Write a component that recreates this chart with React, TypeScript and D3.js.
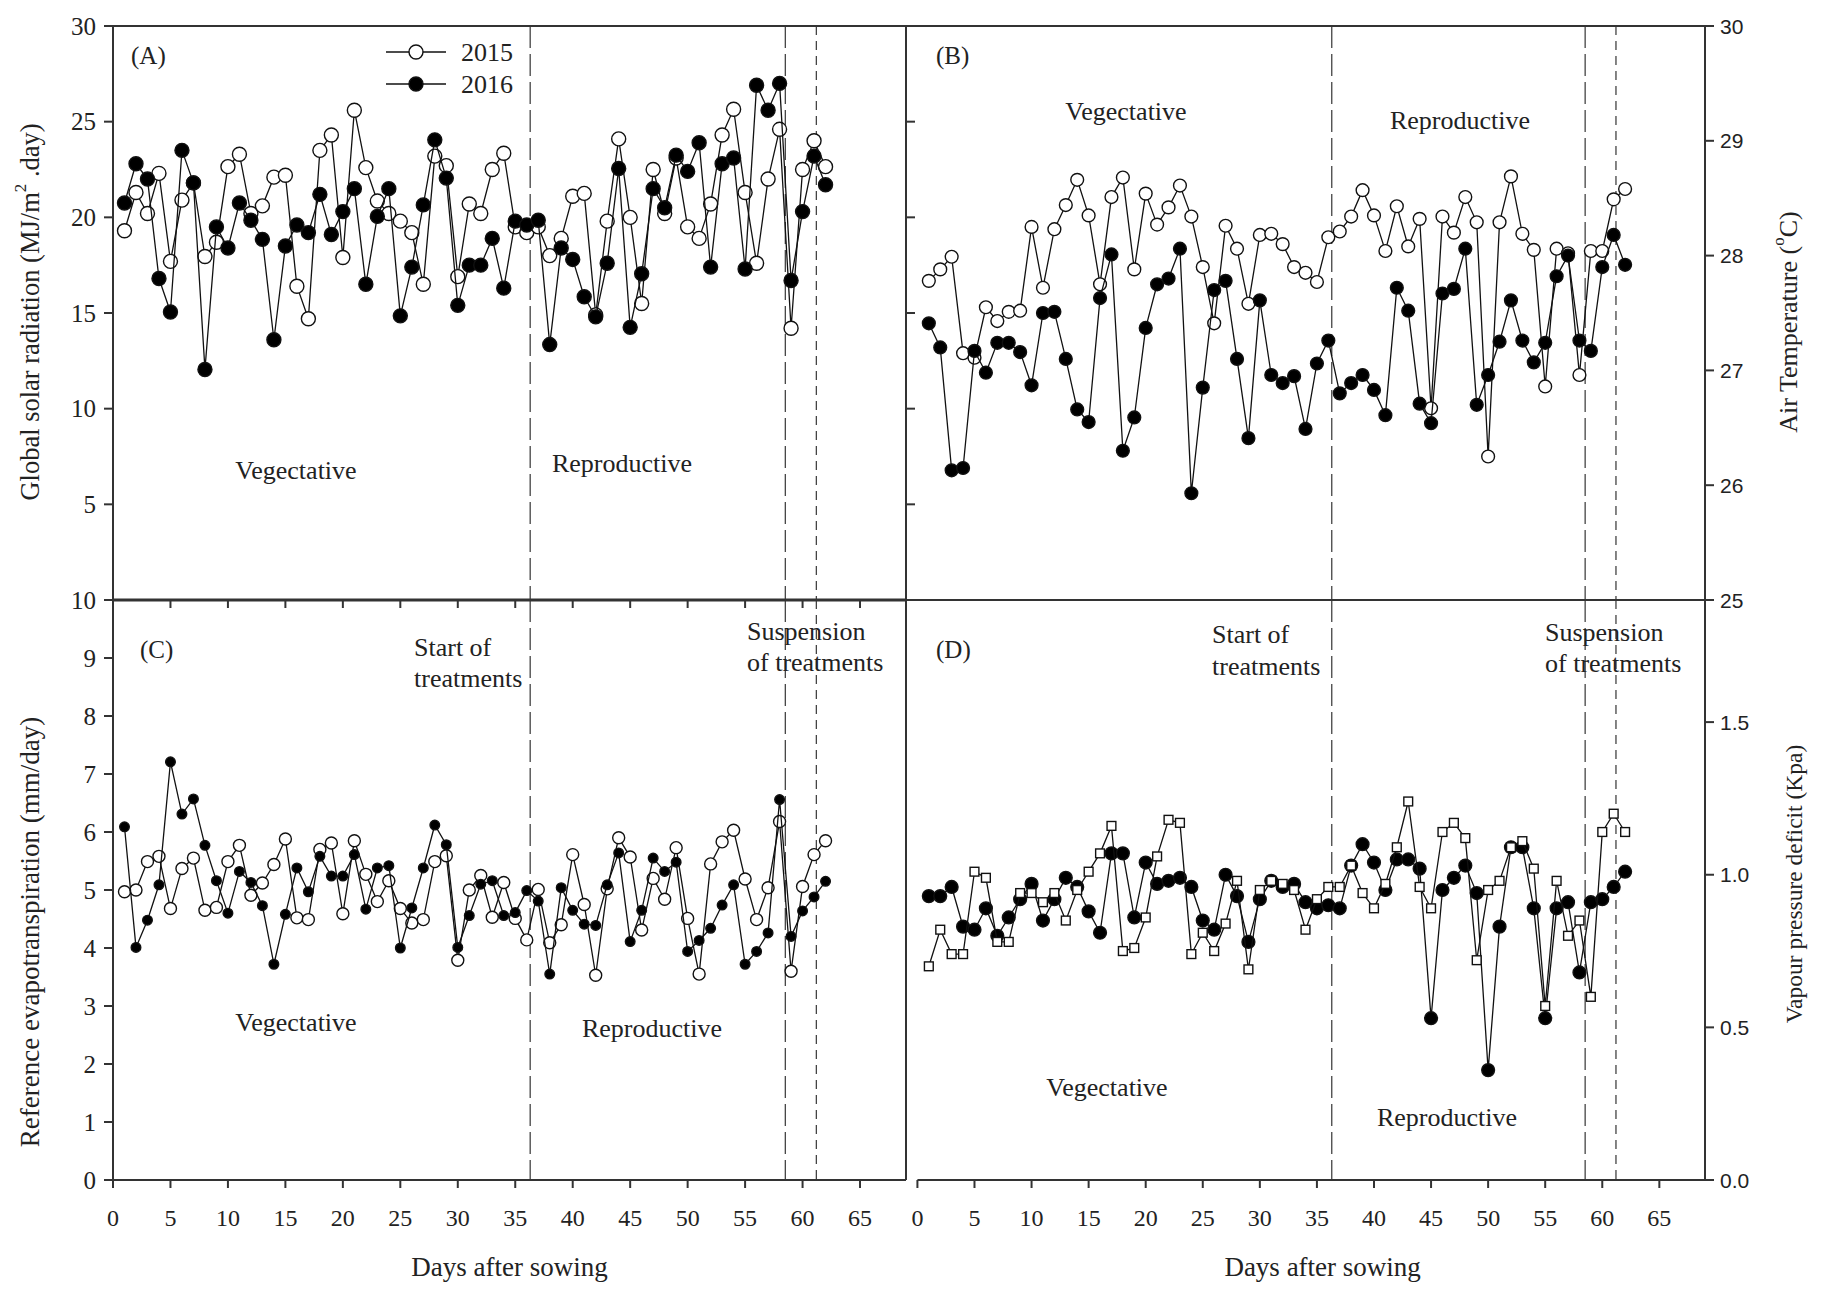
import React from "react";
import * as d3 from "d3";

// Daily weather during the two growing seasons (days after sowing 1..62)
const days = d3.range(1, 63);

const radiation2015 = [
  19.3, 21.3, 20.2, 22.3, 17.7, 20.9, 21.8, 17.95, 18.7, 22.65, 23.3, 20.2, 20.6, 22.1, 22.2, 16.4,
  14.7, 23.5, 24.3, 17.9, 25.6, 22.6, 20.85, 20.2, 19.8, 19.2, 16.5, 23.2, 22.7, 16.9, 20.7, 20.2,
  22.5, 23.35, 19.5, 19.2, 19.5, 18.0, 18.9, 21.1, 21.25, 14.9, 19.8, 24.1, 20.0, 15.5, 22.5, 20.2,
  23.1, 19.5, 18.9, 20.7, 24.3, 25.65, 21.3, 17.6, 22.0, 24.6, 14.2, 22.5, 24.0, 22.65,
];
const radiation2016 = [
  20.75, 22.8, 22.0, 16.8, 15.05, 23.5, 21.8, 12.05, 19.5, 18.4, 20.75, 19.85, 18.85, 13.6, 18.5, 19.6,
  19.2, 21.2, 19.1, 20.3, 21.5, 16.5, 20.05, 21.5, 14.85, 17.4, 20.65, 24.05, 22.05, 15.4, 17.5, 17.5,
  18.9, 16.3, 19.8, 19.6, 19.85, 13.35, 18.4, 17.8, 15.85, 14.8, 17.6, 22.55, 14.25, 17.05, 21.5, 20.5,
  23.25, 22.4, 23.9, 17.4, 22.8, 23.1, 17.3, 26.9, 25.6, 27.0, 16.7, 20.3, 23.2, 21.7,
];

const temp2015 = [
  27.78, 27.88, 27.99, 27.15, 27.11, 27.55, 27.43, 27.51, 27.52, 28.25, 27.72, 28.23, 28.44, 28.66, 28.35, 27.75,
  28.51, 28.68, 27.88, 28.54, 28.27, 28.42, 28.61, 28.34, 27.9, 27.41, 28.26, 28.06, 27.58, 28.18, 28.19, 28.1,
  27.9, 27.85, 27.77, 28.16, 28.21, 28.34, 28.57, 28.35, 28.04, 28.43, 28.08, 28.32, 26.67, 28.34, 28.2, 28.51,
  28.29, 26.25, 28.29, 28.69, 28.19, 28.05, 26.86, 28.06, 28.02, 26.96, 28.04, 28.04, 28.49, 28.58,
];
const temp2016 = [
  27.41, 27.2, 26.13, 26.15, 27.17, 26.98, 27.24, 27.24, 27.16, 26.87, 27.5, 27.51, 27.1, 26.66, 26.55, 27.63,
  28.01, 26.3, 26.59, 27.37, 27.75, 27.8, 28.06, 25.93, 26.85, 27.7, 27.78, 27.1, 26.41, 27.61, 26.96, 26.89,
  26.95, 26.49, 27.06, 27.26, 26.8, 26.89, 26.96, 26.83, 26.61, 27.72, 27.52, 26.71, 26.54, 27.67, 27.71, 28.06,
  26.7, 26.96, 27.25, 27.61, 27.26, 27.07, 27.24, 27.82, 28.0, 27.26, 27.17, 27.9, 28.18, 27.92,
];

const et2015 = [
  4.97, 5.0, 5.49, 5.58, 4.68, 5.37, 5.55, 4.65, 4.7, 5.49, 5.77, 4.91, 5.12, 5.44, 5.88, 4.52,
  4.49, 5.7, 5.81, 4.59, 5.85, 5.27, 4.8, 5.16, 4.68, 4.43, 4.49, 5.49, 5.59, 3.79, 5.0, 5.25,
  4.53, 5.13, 4.51, 4.14, 5.01, 4.09, 4.4, 5.61, 4.75, 3.53, 5.02, 5.9, 5.57, 4.31, 5.2, 4.84,
  5.73, 4.51, 3.55, 5.45, 5.83, 6.03, 5.19, 4.49, 5.04, 6.18, 3.6, 5.06, 5.61, 5.85,
];
const et2016 = [
  6.09, 4.01, 4.48, 5.09, 7.21, 6.31, 6.57, 5.77, 5.16, 4.6, 5.32, 5.13, 4.73, 3.72, 4.58, 5.38,
  4.97, 5.58, 5.24, 5.24, 5.61, 4.67, 5.38, 5.42, 4.0, 4.69, 5.38, 6.12, 5.78, 4.01, 4.56, 5.1,
  5.16, 4.56, 4.61, 4.99, 4.81, 3.55, 5.04, 4.65, 4.41, 4.39, 5.09, 5.64, 4.11, 4.65, 5.55, 5.32,
  5.48, 3.94, 4.13, 4.34, 4.74, 5.09, 3.72, 3.94, 4.26, 6.56, 4.2, 4.64, 4.88, 5.15,
];

const vpd2015 = [
  0.7, 0.82, 0.74, 0.74, 1.01, 0.99, 0.78, 0.78, 0.94, 0.94, 0.91, 0.94, 0.85, 0.95, 1.01, 1.07,
  1.16, 0.75, 0.76, 0.86, 1.06, 1.18, 1.17, 0.74, 0.81, 0.75, 0.84, 0.98, 0.69, 0.95, 0.98, 0.97,
  0.95, 0.82, 0.92, 0.96, 0.96, 1.03, 0.94, 0.89, 0.97, 1.09, 1.24, 0.96, 0.89, 1.14, 1.17, 1.12,
  0.72, 0.95, 0.98, 1.09, 1.11, 1.02, 0.57, 0.98, 0.8, 0.85, 0.6, 1.14, 1.2, 1.14,
];
const vpd2016 = [
  0.93, 0.93, 0.96, 0.83, 0.82, 0.89, 0.8, 0.86, 0.92, 0.97, 0.85, 0.92, 0.99, 0.96, 0.88, 0.81,
  1.07, 1.07, 0.86, 1.04, 0.97, 0.98, 0.99, 0.96, 0.85, 0.82, 1.0, 0.93, 0.78, 0.92, 0.98, 0.96,
  0.97, 0.91, 0.89, 0.9, 0.89, 1.03, 1.1, 1.04, 0.95, 1.05, 1.05, 1.02, 0.53, 0.95, 0.99, 1.03,
  0.94, 0.36, 0.83, 1.09, 1.09, 0.89, 0.53, 0.89, 0.91, 0.68, 0.91, 0.92, 0.96, 1.01,
];

// stage boundaries (days after sowing) and tick values
const phaseDays = [36.3, 58.5, 61.2];
const dayTicks = d3.range(0, 70, 5);
const radTicks = [5, 10, 15, 20, 25, 30];
const etTicks = d3.range(0, 11);
const tempTicks = [25, 26, 27, 28, 29, 30];
const vpdTicks = [0, 0.5, 1, 1.5];

const SERIF = "'Liberation Serif', 'Times New Roman', serif";
const SANS = "'Liberation Sans', Arial, sans-serif";
const W = 1826;
const H = 1292;
const LEFT = 113;
const MIDX = 906;
const RIGHT = 1705;
const TOP = 26;
const MIDY = 600;
const BOTTOM = 1180;

const xLeft = d3.scaleLinear().domain([0, 69]).range([LEFT, MIDX]);
const xRight = d3.scaleLinear().domain([-1, 69]).range([MIDX, RIGHT]);
const yRad = d3.scaleLinear().domain([0, 30]).range([MIDY, TOP]);
const yTemp = d3.scaleLinear().domain([25, 30]).range([MIDY, TOP]);
const yEt = d3.scaleLinear().domain([0, 10]).range([BOTTOM, MIDY]);
const yVpd = d3.scaleLinear().domain([0, 1.9]).range([BOTTOM, MIDY]);

type Scale = d3.ScaleLinear<number, number>;

function Series({ x, y, values, marker, r }: { x: Scale; y: Scale; values: number[]; marker: string; r: number }) {
  const pts: [number, number][] = values.map((v, i) => [x(days[i]), y(v)]);
  const path = d3.line()(pts) || "";
  return (
    <g>
      <path d={path} fill="none" stroke="#111" strokeWidth={1.3} />
      {pts.map(([px, py], i) =>
        marker === "square" ? (
          <rect key={i} x={px - r} y={py - r} width={2 * r} height={2 * r} fill="#fff" stroke="#111" strokeWidth={1.4} />
        ) : (
          <circle key={i} cx={px} cy={py} r={r} fill={marker === "filled" ? "#000" : "#fff"} stroke="#111" strokeWidth={1.4} />
        )
      )}
    </g>
  );
}

function PhaseLines({ x, y0, y1 }: { x: Scale; y0: number; y1: number }) {
  return (
    <g stroke="#444" strokeWidth={1.3}>
      {phaseDays.map((d, i) => (
        <line key={i} x1={x(d)} x2={x(d)} y1={y0} y2={y1} strokeDasharray={i === 2 ? "9 6" : "22 6"} />
      ))}
    </g>
  );
}

function Label({ x, y, children, anchor = "start", size = 26 }: any) {
  return (
    <text x={x} y={y} textAnchor={anchor} dominantBaseline="central" fontFamily={SERIF} fontSize={size} fill="#222">
      {children}
    </text>
  );
}

function VTitle({ x, y, size, children }: any) {
  return (
    <text transform={`translate(${x},${y}) rotate(-90)`} textAnchor="middle" dominantBaseline="central" fontFamily={SERIF} fontSize={size} fill="#222">
      {children}
    </text>
  );
}

export default function App() {
  const axis = { stroke: "#333", strokeWidth: 2 };
  const fmt1 = d3.format(".1f");
  return (
    <div>
      <style>{"body{margin:0;background:#fff}"}</style>
      <svg width={W} height={H} viewBox={`0 0 ${W} ${H}`} style={{ display: "block", background: "#fff" }}>
        {/* phase boundaries */}
        <PhaseLines x={xLeft} y0={TOP} y1={MIDY} />
        <PhaseLines x={xLeft} y0={MIDY} y1={BOTTOM} />
        <PhaseLines x={xRight} y0={TOP} y1={MIDY} />
        <PhaseLines x={xRight} y0={MIDY} y1={BOTTOM} />

        {/* frames */}
        <g {...axis}>
          <line x1={LEFT} x2={RIGHT} y1={TOP} y2={TOP} />
          <line x1={LEFT} x2={LEFT} y1={TOP} y2={BOTTOM} />
          <line x1={MIDX} x2={MIDX} y1={TOP} y2={BOTTOM} />
          <line x1={RIGHT} x2={RIGHT} y1={TOP} y2={BOTTOM} />
          <line x1={LEFT} x2={MIDX} y1={MIDY} y2={MIDY} strokeWidth={3} />
          <line x1={MIDX} x2={RIGHT} y1={MIDY} y2={MIDY} />
          <line x1={LEFT} x2={MIDX} y1={BOTTOM} y2={BOTTOM} />
          <line x1={xRight(0)} x2={RIGHT} y1={BOTTOM} y2={BOTTOM} />
        </g>

        {/* panel A axes */}
        <g {...axis}>
          {[0, ...radTicks].map((t) => (
            <line key={"al" + t} x1={LEFT - 9} x2={LEFT} y1={yRad(t)} y2={yRad(t)} />
          ))}
          {[5, 10, 15, 20, 25].map((t) => (
            <line key={"ar" + t} x1={MIDX} x2={MIDX + 9} y1={yRad(t)} y2={yRad(t)} />
          ))}
          {dayTicks.map((t) => (
            <line key={"ab" + t} x1={xLeft(t)} x2={xLeft(t)} y1={MIDY} y2={MIDY + 8} />
          ))}
        </g>
        {radTicks.map((t) => (
          <Label key={"alt" + t} x={LEFT - 17} y={yRad(t)} anchor="end" size={25}>{t}</Label>
        ))}

        {/* panel C axes */}
        <g {...axis}>
          {etTicks.map((t) => (
            <line key={"cl" + t} x1={LEFT - 9} x2={LEFT} y1={yEt(t)} y2={yEt(t)} />
          ))}
          {dayTicks.map((t) => (
            <line key={"cb" + t} x1={xLeft(t)} x2={xLeft(t)} y1={BOTTOM} y2={BOTTOM + 8} />
          ))}
        </g>
        {etTicks.map((t) => (
          <Label key={"clt" + t} x={LEFT - 17} y={yEt(t)} anchor="end" size={25}>{t}</Label>
        ))}
        {dayTicks.map((t) => (
          <Label key={"cbt" + t} x={xLeft(t)} y={BOTTOM + 38} anchor="middle" size={24}>{t}</Label>
        ))}

        {/* panels B and D: right axes, D bottom axis */}
        <g {...axis}>
          {tempTicks.map((t) => (
            <line key={"br" + t} x1={RIGHT} x2={RIGHT + 9} y1={yTemp(t)} y2={yTemp(t)} />
          ))}
          {vpdTicks.map((t) => (
            <line key={"dr" + t} x1={RIGHT} x2={RIGHT + 9} y1={yVpd(t)} y2={yVpd(t)} />
          ))}
          {dayTicks.map((t) => (
            <line key={"db" + t} x1={xRight(t)} x2={xRight(t)} y1={BOTTOM} y2={BOTTOM + 8} />
          ))}
        </g>
        {tempTicks.map((t) => (
          <text key={"brt" + t} x={RIGHT + 15} y={yTemp(t)} dominantBaseline="central" fontFamily={SANS} fontSize={21} fill="#222">
            {t}
          </text>
        ))}
        {vpdTicks.map((t) => (
          <text key={"drt" + t} x={RIGHT + 15} y={yVpd(t)} dominantBaseline="central" fontFamily={SANS} fontSize={21} fill="#222">
            {fmt1(t)}
          </text>
        ))}
        {dayTicks.map((t) => (
          <Label key={"dbt" + t} x={xRight(t)} y={BOTTOM + 38} anchor="middle" size={24}>{t}</Label>
        ))}

        {/* data */}
        <Series x={xLeft} y={yRad} values={radiation2015} marker="open" r={7} />
        <Series x={xLeft} y={yRad} values={radiation2016} marker="filled" r={7} />
        <Series x={xRight} y={yTemp} values={temp2015} marker="open" r={6.4} />
        <Series x={xRight} y={yTemp} values={temp2016} marker="filled" r={6.4} />
        <Series x={xLeft} y={yEt} values={et2015} marker="open" r={6} />
        <Series x={xLeft} y={yEt} values={et2016} marker="filled" r={4.8} />
        <Series x={xRight} y={yVpd} values={vpd2016} marker="filled" r={6.4} />
        <Series x={xRight} y={yVpd} values={vpd2015} marker="square" r={4.4} />

        {/* legend */}
        <g>
          <line x1={386} x2={446} y1={52} y2={52} stroke="#111" strokeWidth={1.3} />
          <circle cx={416} cy={52} r={7} fill="#fff" stroke="#111" strokeWidth={1.4} />
          <Label x={461} y={52}>2015</Label>
          <line x1={386} x2={446} y1={84} y2={84} stroke="#111" strokeWidth={1.3} />
          <circle cx={416} cy={84} r={7} fill="#000" stroke="#111" strokeWidth={1.4} />
          <Label x={461} y={84}>2016</Label>
        </g>

        {/* annotations */}
        <Label x={131} y={55} size={25}>(A)</Label>
        <Label x={936} y={55} size={25}>(B)</Label>
        <Label x={140} y={649} size={25}>(C)</Label>
        <Label x={936} y={649} size={25}>(D)</Label>

        <Label x={296} y={470} anchor="middle">Vegectative</Label>
        <Label x={622} y={463} anchor="middle">Reproductive</Label>
        <Label x={1126} y={111} anchor="middle">Vegectative</Label>
        <Label x={1460} y={120} anchor="middle">Reproductive</Label>
        <Label x={296} y={1022} anchor="middle">Vegectative</Label>
        <Label x={652} y={1028} anchor="middle">Reproductive</Label>
        <Label x={1107} y={1087} anchor="middle">Vegectative</Label>
        <Label x={1447} y={1117} anchor="middle">Reproductive</Label>

        <Label x={414} y={647}>Start of</Label>
        <Label x={414} y={678}>treatments</Label>
        <Label x={747} y={631}>Suspension</Label>
        <Label x={747} y={662}>of treatments</Label>
        <Label x={1212} y={634}>Start of</Label>
        <Label x={1212} y={666}>treatments</Label>
        <Label x={1545} y={632}>Suspension</Label>
        <Label x={1545} y={663}>of treatments</Label>

        {/* axis titles */}
        <VTitle x={30} y={312} size={26.5}>
          Global solar radiation (MJ/m<tspan dy={-10} fontSize={17}>2</tspan>
          <tspan dy={10}> .day)</tspan>
        </VTitle>
        <VTitle x={30} y={932} size={27}>
          Reference evapotranspiration (mm/day)
        </VTitle>
        <VTitle x={1788} y={322} size={26}>
          Air Temperature (<tspan dy={-10} fontSize={17}>o</tspan>
          <tspan dy={10}>C)</tspan>
        </VTitle>
        <VTitle x={1794} y={884} size={23.5}>
          Vapour pressure deficit (Kpa)
        </VTitle>
        <Label x={xLeft(34.5)} y={1267} anchor="middle" size={27}>Days after sowing</Label>
        <Label x={xRight(35.5)} y={1267} anchor="middle" size={27}>Days after sowing</Label>
      </svg>
    </div>
  );
}
